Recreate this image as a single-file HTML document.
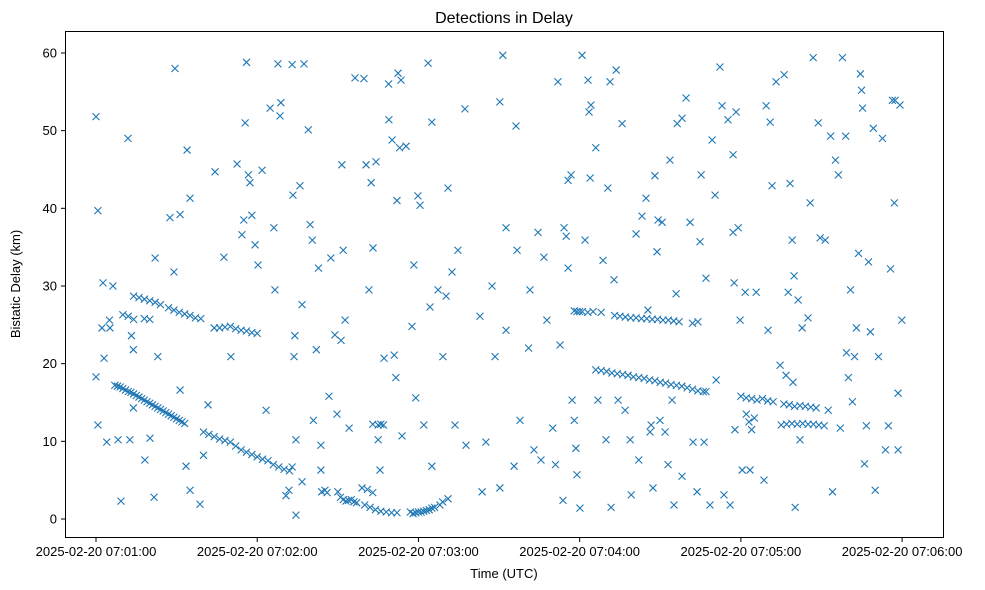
<!DOCTYPE html>
<html><head><meta charset="utf-8"><style>
body{margin:0;background:#fff;}
svg{display:block;font-family:"Liberation Sans","DejaVu Sans",sans-serif;}
</style></head><body>
<svg id="chart" width="985" height="590">
<rect width="985" height="590" fill="#fff"/>
<text x="504" y="23" font-size="16" text-anchor="middle">Detections in Delay</text>
<g id="marks"></g>
<rect x="65.5" y="31.5" width="878" height="506" fill="none" stroke="#000" stroke-width="1"/>
<g id="xt"></g>
<g id="yt"></g>
<text x="504" y="578" font-size="13" text-anchor="middle">Time (UTC)</text>
<text transform="translate(20,284) rotate(-90)" font-size="13" text-anchor="middle">Bistatic Delay (km)</text>
</svg>
<script>
const xTickSecs=[0,60,120,180,240,300];
const xTickLabels=["2025-02-20 07:01:00","2025-02-20 07:02:00","2025-02-20 07:03:00","2025-02-20 07:04:00","2025-02-20 07:05:00","2025-02-20 07:06:00"];
const yTickVals=[0,10,20,30,40,50,60];
const scatterT=[0,0.7,0,0.7,2.2,2.6,3,4,5.2,6.3,8.2,9.3,11.9,13.2,13.9,12.6,13.9,18.2,20.1,22,21.6,23,27.5,29.4,29,31.3,33.9,35,33.5,35,31.3,38.7,40,41.7,44.3,47.6,50.2,52.5,54.3,55,55.5,56,56.7,57.3,58,59.2,60.3,61.8,63.3,64.8,66.2,66.6,67.7,68.8,68.5,70.7,71.8,73,73.3,74.4,74.4,73.7,74,75.9,76.7,77.4,76.7,79,79.7,80.5,80.9,82,82.8,83.7,83.7,85.2,86.7,87.4,88.9,89.7,91.2,92,91.5,92.7,94.2,96.4,99.7,100.5,101.6,102.4,103.1,104.2,105,105.7,107.2,108.9,109,110.2,111,111.6,112,112.4,113,113.5,113.9,115.4,117.6,118.3,119,119.8,120.6,122,123.6,125,124.3,125,127.3,129.1,130.3,131,132.5,133.6,134.7,137.3,137.7,142.9,143.7,145.1,147.4,148.5,150.3,150.3,151.4,152.6,152.6,155.6,156.3,156.7,157.8,161,161.5,163,164.5,165.6,166.7,167.8,170,171,171.9,172.7,173.8,174.2,175,175.7,175.7,176.8,177.2,178,178.6,179,180.1,180.9,182,183.1,183.5,184.2,183.9,186,186.8,188.7,189.8,191.3,190.5,191.7,192.8,193.6,194.3,195.8,196.9,198.8,199.2,201,202,203.2,204.7,205.4,206.2,206.6,207.3,208,208.8,209.2,209.9,210.7,211.8,212.9,213.6,214.4,215.1,215.9,216.3,218.1,218.1,219.6,221.1,222.2,223.7,224.8,225.2,226.3,227,228.5,229.3,230.4,230.8,232.2,233,233.7,235.2,236,237.1,237.1,237.5,237.8,238.2,239,239.7,240.5,241.6,243.4,245.7,248.6,249.4,250.1,250.9,251.6,253.1,254.6,256.1,256.8,257.6,258.3,259.1,259.4,259.8,260.2,261.3,262,262.8,265,265.8,266.9,268.8,269.5,271.4,272.5,273.4,274.1,275.2,276.3,277,277.8,279,279.3,280,280.8,281.5,282.3,283,283.8,284.5,284.9,285.3,286,286.7,287.5,288.2,289.3,290,291.2,292.7,293.8,294.9,295.7,296.4,297.1,297.4,298.5,298.5,299.2,299.9];
const scatterD=[51.8,39.7,18.3,12.1,24.6,30.4,20.7,9.9,24.6,30,10.2,2.3,49,23.6,21.8,10.2,14.3,7.6,10.4,33.6,2.8,20.9,38.8,58,31.8,39.2,47.5,41.3,6.8,3.7,16.6,1.9,8.2,14.7,44.7,33.7,20.9,45.7,36.6,38.5,51,58.8,44.3,43.3,39.1,35.3,32.7,44.9,14,52.9,37.5,29.5,58.6,53.6,51.9,3,3.7,58.5,41.7,0.5,10.2,20.9,23.6,42.9,27.6,58.6,4.8,50.1,37.9,35.9,12.7,21.8,32.3,6.3,9.5,3.7,15.8,33.6,23.7,13.5,23,34.6,45.6,25.6,11.7,56.8,56.7,45.6,29.5,43.3,34.9,46,10.2,6.3,20.7,56,51.4,48.8,21.1,18.2,41,57.4,47.8,56.5,10.7,48,24.8,32.7,15.6,41.6,40.4,12.1,58.7,51.1,27.3,6.8,29.5,20.9,28.7,42.6,31.8,12.1,34.6,52.8,9.5,26.1,3.5,9.9,30,20.9,53.7,4,59.7,37.5,24.3,6.8,50.6,34.6,12.7,22,29.5,8.9,36.9,7.6,33.7,25.6,11.7,7,56.3,22.4,2.4,37.5,36.4,32.3,43.6,44.3,15.3,12.7,9.1,5.7,1.4,59.7,35.9,56.5,52.4,53.3,43.9,47.8,15.3,33.3,10.2,56.3,42.6,1.5,30.8,57.8,15.3,50.9,14,10.2,3.1,36.7,7.6,39,41.3,26.9,11.2,12.1,4,44.2,34.4,38.5,12.7,38.2,11.2,7,46.2,15.3,1.8,29,50.9,51.6,5.5,54.2,38.2,9.9,3.5,35.7,44.3,9.9,31,1.8,48.8,41.7,17.9,58.2,53.2,3.1,51.4,1.8,46.9,36.9,30.4,11.5,52.4,37.5,25.6,6.3,29.2,6.3,29.2,5,53.2,24.3,51.1,42.9,56.3,19.8,57.2,18.5,29.2,43.2,35.9,17.6,31.3,1.5,28.2,10.2,24.6,25.9,40.7,59.4,51,36.2,35.9,14,49.3,3.5,46.2,44.3,11.7,59.4,49.3,21.4,18.2,29.5,15.1,20.9,24.6,34.2,57.3,55.2,52.9,7.1,12,33.1,24.1,50.3,3.7,20.9,49,8.9,12,32.2,53.9,40.7,53.9,16.2,8.9,53.3,25.6];
const trackT=[7,8,9,10,11,12,13,14,15,16,17,18,19,20,21,22,23,24,25,26,27,28,29,30,31,32,33,40,42,44,46,48,50,52,54,56,58,60,62,64,66,68,70,72,73,14,16,18,20,22,24,27,29,31,33,35,37,39,44,46,48,50,52,54,56,58,60,5,10,12,14,18,20,90,91,92,93,94,95,96,100,102,104,106,108,110,112,117,118,119,120,121,122,123,124,125,126,128,129,131,97,86,84,99,101,103,106,107,103,105,178,179,180,181,183,185,188,186,188,190,192,194,196,198,200,202,204,206,208,210,212,214,216,218,220,222,224,226,227,193,195,197,199,201,203,205,207,209,211,213,215,217,222,224,240,242,244,246,248,250,252,255,257,259,261,263,265,267,269,271,256,258,260,262,264,266,268,242,243,244,245];
const trackD=[17.2,17.1,17,16.8,16.6,16.4,16.3,16.1,15.9,15.7,15.5,15.3,15.1,14.9,14.7,14.5,14.3,14.1,13.9,13.7,13.5,13.3,13.1,12.9,12.7,12.5,12.3,11.2,10.9,10.6,10.3,10.1,9.9,9.4,8.9,8.6,8.3,8,7.7,7.5,7,6.7,6.4,6.2,6.7,28.7,28.5,28.3,28.1,27.9,27.6,27.2,26.9,26.6,26.4,26.2,25.9,25.8,24.6,24.6,24.7,24.8,24.5,24.3,24.2,24,23.9,25.6,26.3,26.1,25.7,25.8,25.7,3.5,2.8,2.5,2.3,2.4,2.5,2.2,1.8,1.5,1.2,1,0.9,0.8,0.8,0.9,0.7,0.8,0.9,0.9,1,1.1,1.2,1.4,1.5,1.8,2.2,2.6,2.1,3.4,3.5,4,3.8,3.4,12.2,12.1,12.2,12.1,26.8,26.7,26.7,26.7,26.6,26.7,26.6,19.2,19.1,19,18.8,18.7,18.6,18.5,18.3,18.2,18.1,17.9,17.8,17.6,17.5,17.3,17.2,17.1,16.9,16.7,16.5,16.4,16.4,26.2,26.1,26,25.9,25.9,25.8,25.8,25.7,25.7,25.6,25.6,25.5,25.4,25.2,25.4,15.8,15.6,15.5,15.3,15.5,15.2,15.1,12.1,12.2,12.3,12.2,12.3,12.2,12.2,12.1,12,14.8,14.7,14.5,14.6,14.5,14.4,14.3,13.5,12.5,11.5,13];

const NS="http://www.w3.org/2000/svg";
function xs(t){return 96+t*2.687;}
function ys(d){return 519-d*7.767;}
const marks=document.getElementById('marks');
function drawX(t,d){
  const x=xs(t),y=ys(d),r=3.5;
  const p=document.createElementNS(NS,'path');
  p.setAttribute('d',`M${x-r},${y-r}L${x+r},${y+r}M${x-r},${y+r}L${x+r},${y-r}`);
  p.setAttribute('stroke','#1f77b4');p.setAttribute('stroke-width','1.1');p.setAttribute('fill','none');
  
  
  marks.appendChild(p);
}
scatterT.forEach((t,i)=>drawX(t,scatterD[i]));
trackT.forEach((t,i)=>drawX(t,trackD[i]));

const xt=document.getElementById('xt');
xTickSecs.forEach((s,i)=>{
  const x=xs(s);
  const l=document.createElementNS(NS,'line');
  l.setAttribute('x1',x);l.setAttribute('x2',x);l.setAttribute('y1',537.5);l.setAttribute('y2',542);l.setAttribute('stroke','#000');
  
  
  xt.appendChild(l);
  const tx=document.createElementNS(NS,'text');
  tx.setAttribute('x',x);tx.setAttribute('y',556);tx.setAttribute('font-size','13');tx.setAttribute('text-anchor','middle');
  tx.textContent=xTickLabels[i];
  
  
  xt.appendChild(tx);
});
const yt=document.getElementById('yt');
yTickVals.forEach(v=>{
  const y=ys(v);
  const l=document.createElementNS(NS,'line');
  l.setAttribute('x1',61);l.setAttribute('x2',65.5);l.setAttribute('y1',y);l.setAttribute('y2',y);l.setAttribute('stroke','#000');
  
  
  yt.appendChild(l);
  const tx=document.createElementNS(NS,'text');
  tx.setAttribute('x',57);tx.setAttribute('y',y+4.5);tx.setAttribute('font-size','13');tx.setAttribute('text-anchor','end');
  tx.textContent=v;
  
  
  yt.appendChild(tx);
});
</script>
</body></html>
